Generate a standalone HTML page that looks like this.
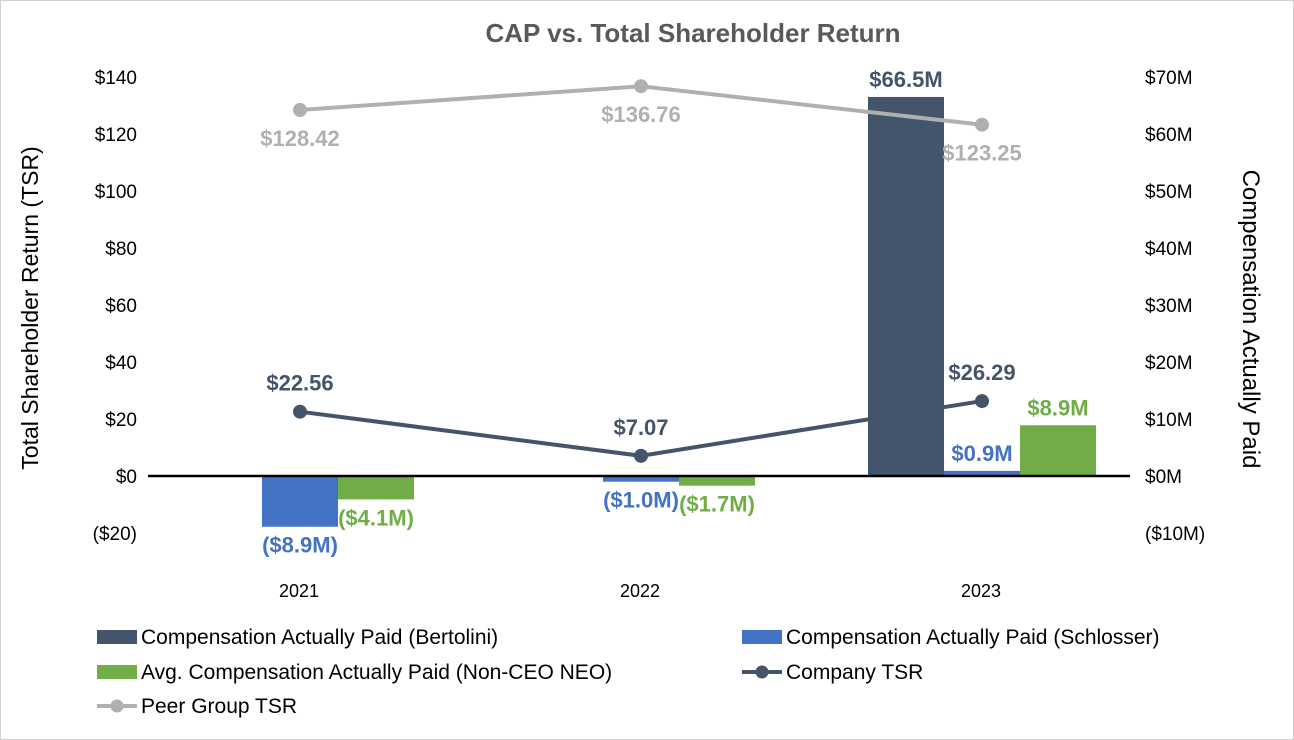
<!DOCTYPE html>
<html><head><meta charset="utf-8"><style>
body{margin:0;background:#fff;}
svg{display:block;font-family:"Liberation Sans",Arial,sans-serif;}
</style></head><body>
<svg id="chart" width="1294" height="740" viewBox="0 0 1294 740">
<rect x="0.5" y="0.5" width="1293" height="739" fill="#fff" stroke="#d0d0d0"/>
<text x="693" y="42" text-anchor="middle" font-size="26" font-weight="bold" fill="#595959">CAP vs. Total Shareholder Return</text>
<g id="axes"></g><g id="marks"></g><g id="legend"></g>
</svg>
<script>
const categories=["2021","2022","2023"];
const bertolini=[null,null,66.5];
const schlosser=[-8.9,-1.0,0.9];
const nonCeo=[-4.1,-1.7,8.9];
const companyTSR=[22.56,7.07,26.29];
const peerTSR=[128.42,136.76,123.25];
const leftTicks=[-20,0,20,40,60,80,100,120,140];
const rightTicks=[-10,0,10,20,30,40,50,60,70];

const NS="http://www.w3.org/2000/svg";
const yL=v=>476-v*2.85;
const yR=v=>476-v*5.7;
const xC=i=>300+i*341;
const BW=76;
function mk(tag,attrs,parent,txt){const e=document.createElementNS(NS,tag);for(const k in attrs)e.setAttribute(k,attrs[k]);if(txt!==undefined)e.textContent=txt;parent.appendChild(e);return e;}
const axes=document.getElementById('axes'),marks=document.getElementById('marks'),leg=document.getElementById('legend');
const fmtL=v=>v<0?"($"+(-v)+")":"$"+v;
const fmtR=v=>v<0?"($"+(-v)+"M)":"$"+v+"M";
const fmtM=v=>v<0?"($"+(-v).toFixed(1)+"M)":"$"+v.toFixed(1)+"M";
leftTicks.forEach(v=>{const t=mk('text',{x:137,y:yL(v)+7,'text-anchor':'end','font-size':19,fill:'#000'},axes,fmtL(v));

});
rightTicks.forEach(v=>{const t=mk('text',{x:1145,y:yR(v)+7,'font-size':19,fill:'#000'},axes,fmtR(v));

});
categories.forEach((c,i)=>{const t=mk('text',{x:xC(i)-1,y:597,'text-anchor':'middle','font-size':18,fill:'#000'},axes,c);

});
let a=mk('text',{transform:'translate(38,308) rotate(-90)','text-anchor':'middle','font-size':23,fill:'#000'},axes,'Total Shareholder Return (TSR)');


a=mk('text',{transform:'translate(1243,319) rotate(90)','text-anchor':'middle','font-size':24,fill:'#000'},axes,'Compensation Actually Paid');



function bars(arr,off,color,name,lblColor){
 arr.forEach((v,i)=>{if(v===null)return;
  const x=xC(i)-1.5*BW+off*BW,y0=yR(0),y1=yR(v);
  const r=mk('rect',{x:x,y:Math.min(y0,y1),width:BW,height:Math.max(1.5,Math.abs(y1-y0)),fill:color},marks);
  
  
  const ly=v>=0?Math.min(y0,y1)-10:Math.max(y0,y1)+26;
  const t=mk('text',{x:x+BW/2,y:ly,'text-anchor':'middle','font-size':22,'font-weight':'bold',fill:lblColor},marks,fmtM(v));
  
  
 });}
bars(bertolini,0,'#44546a','bar-bertolini','#44546a');
bars(schlosser,1,'#4472c4','bar-schlosser','#4472c4');
bars(nonCeo,2,'#70ad47','bar-non-ceo','#70ad47');
let z=mk('line',{x1:148,x2:1130,y1:476,y2:476,stroke:'#000','stroke-width':2.5},marks);



function line(arr,color,name,above){
 const p=mk('polyline',{points:arr.map((v,i)=>xC(i)+','+yL(v)).join(' '),fill:'none',stroke:color,'stroke-width':4},marks);
 
 
 arr.forEach((v,i)=>{const c=mk('circle',{cx:xC(i),cy:yL(v),r:7,fill:color},marks);
  
  
  const t=mk('text',{x:xC(i),y:above?yL(v)-21:yL(v)+36,'text-anchor':'middle','font-size':22,'font-weight':'bold',fill:color},marks,'$'+v.toFixed(2));
  
  });}
line(peerTSR,'#b0b0b0','peer-tsr',false);
line(companyTSR,'#44546a','company-tsr',true);

const items=[["Compensation Actually Paid (Bertolini)",'#44546a','bar',97,637],["Compensation Actually Paid (Schlosser)",'#4472c4','bar',742,637],["Avg. Compensation Actually Paid (Non-CEO NEO)",'#70ad47','bar',97,672],["Company TSR",'#44546a','line',742,672],["Peer Group TSR",'#b0b0b0','line',97,706]];
items.forEach(it=>{
 const g=mk('g',{},leg);
 
 
 if(it[2]==='bar')mk('rect',{x:it[3],y:it[4]-7,width:40,height:14,fill:it[1]},g);
 else{mk('line',{x1:it[3],x2:it[3]+40,y1:it[4],y2:it[4],stroke:it[1],'stroke-width':4},g);mk('circle',{cx:it[3]+20,cy:it[4],r:6.5,fill:it[1]},g);}
 mk('text',{x:it[3]+44,y:it[4]+7,'font-size':21,fill:'#000'},g,it[0]);
});
</script>
</body></html>
